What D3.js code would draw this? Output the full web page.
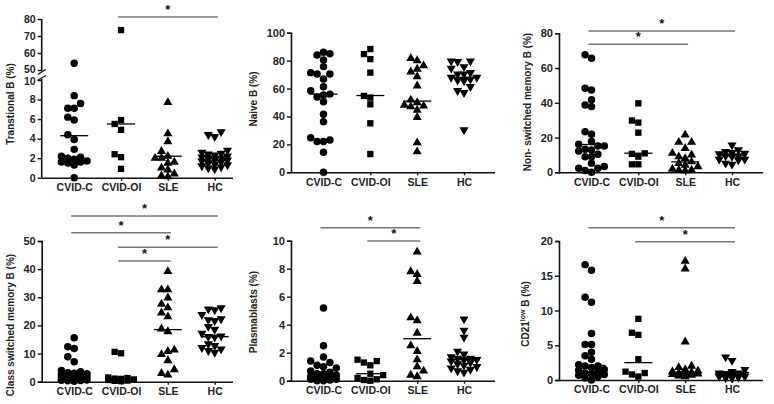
<!DOCTYPE html>
<html><head><meta charset="utf-8">
<script src="https://cdn.jsdelivr.net/npm/d3@7"></script>
<style>
html,body{margin:0;padding:0;background:#fff;}
svg{display:block;font-family:"Liberation Sans",Arial,sans-serif;}
</style></head>
<body><svg id="c" width="774" height="404"></svg>
<script>
const categories = ["CVID-C","CVID-OI","SLE","HC"];

// Transitional B (%)
const transCVIDC = [54, 8.4, 7.6, 7.1, 7.1, 6.2, 5.9, 4.4, 3.9, 2.9, 2.2, 2.1, 2.0, 1.9, 1.7, 1.6, 1.6, 1.5, 1.3, 0];
const transCVIDOI = [73.5, 5.9, 5.5, 4.9, 2.4, 2.1, 0.9];
const transSLE = [7.7, 4.5, 3.7, 2.7, 2.2, 2.0, 2.0, 1.6, 1.5, 1.0, 0.8, 0.4, 0.2, 0.1];
const transHC = [4.7, 4.4, 4.2, 2.8, 2.6, 2.5, 2.4, 2.3, 2.2, 2.1, 2.0, 2.0, 1.9, 1.8, 1.7, 1.6, 1.5, 1.4, 1.3, 1.2, 1.1, 1.0, 0.9];
const transMedians = [4.3, 5.5, 2.2, 1.8];
const transTicksLow = [0, 2, 4, 6, 8, 10];
const transTicksHigh = [50, 60, 70, 80];
const transSig = [[1, 3]];

// Naive B (%)
const naiveCVIDC = [86, 85, 84, 80.5, 75.7, 71.4, 70.4, 70.4, 66.8, 61.3, 58.5, 56, 55.4, 54, 50.6, 41.5, 36.3, 24.8, 23.2, 22, 22, 14.3, 0];
const naiveCVIDOI = [88.3, 84.7, 81.1, 71.4, 54.7, 53.5, 48.7, 35.1, 13.1];
const naiveSLE = [81.6, 80, 76.4, 74, 72, 68.5, 62, 51.8, 50, 48.2, 47.5, 47, 44.6, 39.4, 21.2, 14.8];
const naiveHC = [79.7, 79.7, 79.2, 75.6, 74.5, 71.4, 70.4, 70.4, 68, 68, 66.6, 66, 65.6, 61.3, 58.5, 57, 30.3];
const naiveMedians = [56, 55, 51, 68];
const naiveTicks = [0, 20, 40, 60, 80, 100];
const naiveSig = [];

// Non-switched memory B (%)
const nsCVIDC = [67.6, 65.6, 48.4, 47.4, 41.7, 38.8, 37.8, 23.4, 21.9, 17.7, 16.1, 15.2, 15.2, 13.2, 12.9, 12.3, 10.4, 9, 9, 5.2, 3.3, 2.3, 2.3, 1, 0];
const nsCVIDOI = [39.7, 29.8, 28.6, 22.8, 10.9, 10.6, 9, 4.6, 4.6];
const nsSLE = [21.5, 17.3, 17.3, 13.8, 11, 10, 9, 8, 6.1, 5.2, 4.2, 3.3, 1.9, 1.3, 1.3, 1];
const nsHC = [15.7, 12.9, 11.9, 11.3, 10.9, 10.6, 9.4, 9.4, 9, 7.5, 7.5, 7.1, 5.2, 4.6];
const nsMedians = [16, 11, 6, 9.5];
const nsTicks = [0, 20, 40, 60, 80];
const nsSig = [[0, 3], [0, 2]];

// Class switched memory B (%)
const csCVIDC = [15.6, 12.4, 11.8, 8.9, 7.1, 4.0, 3.5, 3.2, 3.0, 2.8, 2.6, 2.4, 2.2, 2.0, 1.8, 1.5, 1.2, 1.0, 0.8, 0.6, 0.5, 0.4, 0.3, 0.2];
const csCVIDOI = [10.6, 10.1, 1.5, 1.3, 1.1, 1.0, 0.8, 0.6, 0.4, 0.3, 0.2];
const csSLE = [39.2, 32.7, 32.7, 29.8, 27.6, 26.3, 24.5, 23.1, 18.8, 17.8, 11.3, 10.8, 9.7, 7.5, 4.3, 3.0, 2.4];
const csHC = [26.2, 25.8, 25.5, 23.8, 22.3, 22.0, 21.7, 19.6, 18.6, 17.2, 16.2, 16.0, 15.8, 13.4, 12.8, 12.1, 11.6, 11.0, 10.4];
const csMedians = [2.3, 0.8, 18.5, 16];
const csTicks = [0, 10, 20, 30, 40, 50];
const csSig = [[0, 3], [0, 2], [1, 3], [1, 2]];

// Plasmablasts (%)
const pbCVIDC = [5.2, 2.5, 1.7, 1.4, 1.3, 1.1, 1.0, 0.9, 0.7, 0.6, 0.5, 0.5, 0.4, 0.3, 0.3, 0.2, 0.2, 0.1, 0.1, 0.05, 0, 0];
const pbCVIDOI = [1.5, 1.4, 1.3, 1.1, 0.5, 0.4, 0.2, 0.1, 0.05, 0];
const pbSLE = [9.2, 7.8, 7.6, 7.1, 4.5, 4.3, 3.4, 2.5, 2.1, 1.5, 1.0, 0.7, 0.4, 0.3];
const pbHC = [4.4, 3.6, 3.1, 2.1, 1.9, 1.7, 1.6, 1.6, 1.5, 1.5, 1.4, 1.3, 1.2, 1.1, 1.0, 0.9, 0.8, 0.7, 0.6];
const pbMedians = [0.5, 0.5, 3.0, 1.5];
const pbTicks = [0, 2, 4, 6, 8, 10];
const pbSig = [[0, 2], [1, 2]];

// CD21low B (%)
const cdCVIDC = [16.6, 15.8, 11.9, 11.2, 6.7, 5.1, 5.1, 4.0, 3.5, 3.0, 2.2, 2.0, 2.0, 1.8, 1.5, 1.4, 1.2, 1.0, 0.9, 0.8, 0.7, 0.5, 0.3, 0];
const cdCVIDOI = [8.8, 6.8, 6.5, 3.0, 1.2, 1.0, 0.8, 0.5];
const cdSLE = [17.1, 16.0, 5.5, 2.0, 1.8, 1.5, 1.3, 1.2, 1.1, 1.0, 1.0, 0.9, 0.8, 0.7, 0.6, 0.5];
const cdHC = [3.3, 2.8, 1.5, 1.2, 1.0, 1.0, 0.9, 0.8, 0.8, 0.7, 0.7, 0.6, 0.6, 0.5, 0.5, 0.4, 0.3, 0.3];
const cdMedians = [2.1, 2.5, 1.1, 0.8];
const cdTicks = [0, 5, 10, 15, 20];
const cdSig = [[0, 3], [1, 3]];

const yLabels = ["Transtional B (%)", "Naive B (%)", "Non- switched memory B (%)", "Class switched memory B (%)", "Plasmablasts (%)", "CD21low B (%)"];

// ---------- drawing ----------
const svg = d3.select("#c");
const TXT = "#222";
const symbols = [
  d3.symbol().type(d3.symbolCircle).size(44),
  d3.symbol().type(d3.symbolSquare).size(40),
  d3.symbol().type(d3.symbolTriangle).size(36),
  d3.symbol().type(d3.symbolTriangle).size(36)
];

function beeswarm(vals, yf, step, h) {
  const order = vals.map((v, i) => i).sort((a, b) => vals[a] - vals[b]);
  const placed = [];
  const off = new Array(vals.length);
  const cols = [0, -1, 1, -2, 2];
  order.forEach(i => {
    const py = yf(vals[i]);
    let best = null, bestGap = -1;
    for (const c of cols) {
      const same = placed.filter(p => p.c === c);
      const gap = same.length ? d3.min(same, p => Math.abs(p.y - py)) : Infinity;
      if (gap >= h) { best = c; break; }
      if (gap > bestGap + 0.5) { bestGap = gap; best = c; }
    }
    placed.push({c: best, y: py});
    off[i] = best * step;
  });
  return off;
}

function panel(cfg) {
  const g = svg.append("g");
  const x = d3.scalePoint().domain(categories).range([cfg.x0 + 32.5, cfg.x0 + 173]);
  const y = cfg.y;
  if (cfg.broken) {
    g.append("line").attr("x1", cfg.x0).attr("x2", cfg.x0).attr("y1", cfg.yLow.range()[0]).attr("y2", cfg.yLow.range()[1] - 1)
      .attr("stroke", "#111").attr("stroke-width", 1.6);
    g.append("line").attr("x1", cfg.x0).attr("x2", cfg.x0).attr("y1", cfg.yHigh.range()[0] + 1).attr("y2", cfg.yHigh.range()[1])
      .attr("stroke", "#111").attr("stroke-width", 1.6);
    const mid = (cfg.yLow.range()[1] + cfg.yHigh.range()[0]) / 2;
    [-3, 3].forEach(d => g.append("line").attr("x1", cfg.x0 - 4).attr("x2", cfg.x0 + 4)
      .attr("y1", mid + d + 2.5).attr("y2", mid + d - 2.5).attr("stroke", "#111").attr("stroke-width", 1.4));
    [[cfg.yLow, cfg.ticksLow, 1], [cfg.yHigh, cfg.ticksHigh, -1]].forEach(([sc, tk, nudge]) => {
      const ax = g.append("g").attr("transform", `translate(${cfg.x0},0)`)
        .call(d3.axisLeft(sc).tickValues(tk).tickSize(4).tickPadding(2));
      ax.select(".domain").remove();
      styleAxis(ax);
      ax.selectAll("text").attr("font-size", 10.5)
        .attr("y", d => (d === 10 || d === 50) ? nudge * 1.2 : 0);
    });
  } else {
    const ax = g.append("g").attr("transform", `translate(${cfg.x0},0)`)
      .call(d3.axisLeft(y).tickValues(cfg.ticks).tickSize(4).tickPadding(2));
    styleAxis(ax);
  }
  const baseY = cfg.baseY;
  const xa = g.append("g").attr("transform", `translate(0,${baseY})`)
    .call(d3.axisBottom(x).tickSize(3).tickPadding(3).tickSizeOuter(0));
  xa.select(".domain").attr("d", `M${cfg.x0},0.5H${cfg.x1}`);
  styleAxis(xa);
  xa.selectAll("text").attr("font-size", 10.5);

  cfg.series.forEach((vals, ci) => {
    const off = beeswarm(vals, y, 6.4, 6.6);
    g.append("g").selectAll("path").data(vals).join("path")
      .attr("d", symbols[ci])
      .attr("transform", (d, i) => `translate(${x(categories[ci]) + off[i]},${y(d)})${ci === 3 ? " rotate(180)" : ""}`)
      .attr("fill", "#000");
    g.append("line").attr("x1", x(categories[ci]) - 14).attr("x2", x(categories[ci]) + 14)
      .attr("y1", y(cfg.medians[ci])).attr("y2", y(cfg.medians[ci]))
      .attr("stroke", "#000").attr("stroke-width", 1.3);
  });

  cfg.sig.forEach((s, k) => {
    const by = cfg.sigY[k];
    g.append("line").attr("x1", x(categories[s[0]]) - 3).attr("x2", x(categories[s[1]]) + 3)
      .attr("y1", by).attr("y2", by).attr("stroke", "#777").attr("stroke-width", 1.4);
    g.append("text").attr("x", (x(categories[s[0]]) + x(categories[s[1]])) / 2).attr("y", by - 3)
      .attr("text-anchor", "middle").attr("font-size", 13).attr("font-weight", "bold").attr("fill", "#111").text("*");
  });

  const lab = g.append("text").attr("transform", `translate(${cfg.lx},${cfg.ly}) rotate(-90)`)
    .attr("text-anchor", "middle").attr("font-size", 10).attr("font-weight", "bold").attr("fill", TXT);
  if (cfg.label === "CD21low B (%)") {
    lab.append("tspan").text("CD21");
    lab.append("tspan").attr("dy", -4).attr("font-size", 7).text("low");
    lab.append("tspan").attr("dy", 4).text(" B (%)");
  } else lab.text(cfg.label);
}

function styleAxis(ax) {
  ax.select(".domain").attr("stroke", "#111").attr("stroke-width", 1.6);
  ax.selectAll(".tick line").attr("stroke", "#111").attr("stroke-width", 1.4);
  ax.selectAll("text").attr("font-size", 11).attr("font-weight", "bold").attr("fill", TXT)
    .attr("font-family", "Liberation Sans, Arial, sans-serif");
}

const yLow = d3.scaleLinear().domain([0, 10]).range([177.7, 80]);
const yHigh = d3.scaleLinear().domain([50, 80]).range([70, 19]);
const yBroken = v => v <= 10 ? yLow(v) : yHigh(v);
panel({x0: 41.7, x1: 233, baseY: 177.7, broken: true, yLow, yHigh, y: yBroken,
  ticksLow: transTicksLow, ticksHigh: transTicksHigh,
  series: [transCVIDC, transCVIDOI, transSLE, transHC], medians: transMedians,
  sig: transSig, sigY: [17], label: yLabels[0], lx: 14, ly: 104});

panel({x0: 291, x1: 495, baseY: 172.3, y: d3.scaleLinear().domain([0, 100]).range([172.3, 32.7]), ticks: naiveTicks,
  series: [naiveCVIDC, naiveCVIDOI, naiveSLE, naiveHC], medians: naiveMedians,
  sig: naiveSig, sigY: [], label: yLabels[1], lx: 257, ly: 99});

panel({x0: 559, x1: 763, baseY: 172.3, y: d3.scaleLinear().domain([0, 80]).range([172.3, 33.3]), ticks: nsTicks,
  series: [nsCVIDC, nsCVIDOI, nsSLE, nsHC], medians: nsMedians,
  sig: nsSig, sigY: [31, 44.3], label: yLabels[2], lx: 531, ly: 102});

panel({x0: 41.7, x1: 233, baseY: 381.7, y: d3.scaleLinear().domain([0, 50]).range([381.7, 241]), ticks: csTicks,
  series: [csCVIDC, csCVIDOI, csSLE, csHC], medians: csMedians,
  sig: csSig, sigY: [216, 232.7, 247.3, 261], label: yLabels[3], lx: 14, ly: 325});

panel({x0: 291, x1: 495, baseY: 380.7, y: d3.scaleLinear().domain([0, 10]).range([380.7, 240.7]), ticks: pbTicks,
  series: [pbCVIDC, pbCVIDOI, pbSLE, pbHC], medians: pbMedians,
  sig: pbSig, sigY: [227.7, 241], label: yLabels[4], lx: 257, ly: 312});

panel({x0: 559, x1: 763, baseY: 380, y: d3.scaleLinear().domain([0, 20]).range([380, 241]), ticks: cdTicks,
  series: [cdCVIDC, cdCVIDOI, cdSLE, cdHC], medians: cdMedians,
  sig: cdSig, sigY: [227.7, 241.7], label: yLabels[5], lx: 529, ly: 314});
</script></body></html>
